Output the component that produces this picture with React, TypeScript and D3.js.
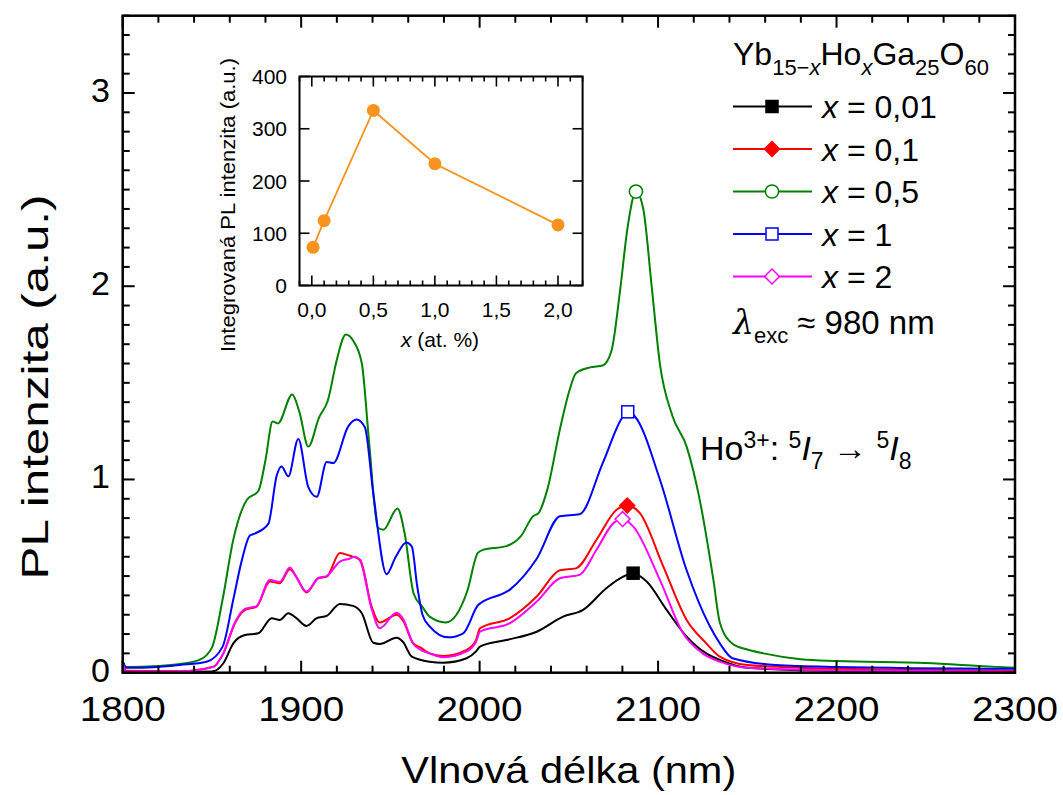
import React from "react";
import * as d3 from "d3";

// ---------- main chart data ----------
const xTickValues = [1800, 1900, 2000, 2100, 2200, 2300];
const yTickValues = [0, 1, 2, 3];

const seriesLabels = ["0,01", "0,1", "0,5", "1", "2"];
const seriesColors = ["#000000", "#ff0000", "#008000", "#0000ff", "#ff00ff"];
const markerShapes = ["square", "diamond", "circle", "square", "diamond"];
const markerFilled = [true, true, false, false, false];
const markerWavelengths = [2086, 2082.7, 2087.6, 2083, 2080.1];

const wlX001 = [1800, 1802, 1830, 1850, 1856.4, 1862, 1868.5, 1876, 1883.5, 1888, 1892.8, 1897, 1903, 1908.7, 1914.3, 1921.7, 1929, 1934, 1940.4, 1944, 1953.5, 1957, 1962, 1972, 1979.6, 1992.7, 1998, 2000.2, 2015, 2032, 2046.8, 2058, 2071, 2080.4, 2086, 2093.6, 2104.8, 2116, 2127, 2134.6, 2150, 2200, 2300];
const intX001 = [0.03, 0.005, 0.004, 0.006, 0.049, 0.152, 0.195, 0.204, 0.282, 0.273, 0.308, 0.285, 0.242, 0.282, 0.294, 0.356, 0.346, 0.308, 0.155, 0.149, 0.181, 0.16, 0.083, 0.057, 0.052, 0.075, 0.11, 0.135, 0.169, 0.212, 0.29, 0.325, 0.437, 0.497, 0.515, 0.472, 0.325, 0.187, 0.1, 0.066, 0.025, 0.01, 0.008];

const wlX01 = [1800, 1802, 1832, 1850.8, 1856.4, 1862.9, 1868.5, 1875, 1882.5, 1888, 1893.7, 1897, 1903, 1909.6, 1914.3, 1921.7, 1927.3, 1933, 1939.5, 1944, 1953.5, 1957, 1962.8, 1967, 1972, 1979.6, 1992.7, 1998, 2000.2, 2017, 2032, 2045, 2054, 2065.5, 2076.7, 2082.7, 2089.8, 2102.9, 2116, 2127, 2134.6, 2150, 2200, 2300];
const intX01 = [0.05, 0.01, 0.008, 0.031, 0.1, 0.256, 0.325, 0.342, 0.472, 0.463, 0.536, 0.5, 0.415, 0.489, 0.497, 0.62, 0.605, 0.584, 0.342, 0.26, 0.3, 0.27, 0.152, 0.13, 0.1, 0.087, 0.118, 0.17, 0.23, 0.282, 0.394, 0.53, 0.54, 0.688, 0.843, 0.865, 0.826, 0.55, 0.273, 0.152, 0.083, 0.04, 0.02, 0.01];

const wlX05 = [1800, 1802, 1820, 1832, 1843, 1850, 1856, 1862, 1869.6, 1876, 1880, 1884, 1887, 1895, 1899, 1904, 1910, 1915, 1920, 1925, 1929, 1934, 1938, 1943, 1946, 1954, 1958, 1963, 1968, 1972, 1981, 1987, 1993, 1999, 2002, 2015, 2023, 2030, 2033, 2038, 2045, 2050, 2054, 2062, 2069, 2074, 2078.6, 2083, 2087.6, 2091.7, 2096.4, 2101, 2108, 2116, 2123, 2131, 2134.6, 2141.7, 2150, 2159, 2180, 2200, 2250, 2280, 2300];
const intX05 = [0.06, 0.03, 0.035, 0.045, 0.066, 0.13, 0.38, 0.69, 0.895, 0.94, 1.1, 1.3, 1.29, 1.44, 1.35, 1.17, 1.32, 1.41, 1.62, 1.75, 1.72, 1.6, 1.2, 0.75, 0.74, 0.85, 0.72, 0.41, 0.34, 0.29, 0.26, 0.3, 0.42, 0.62, 0.636, 0.655, 0.705, 0.81, 0.826, 0.95, 1.26, 1.45, 1.55, 1.58, 1.59, 1.67, 1.97, 2.31, 2.49, 2.4, 2.0, 1.6, 1.33, 1.17, 0.91, 0.48, 0.26, 0.15, 0.12, 0.1, 0.07, 0.06, 0.05, 0.035, 0.025];

const wlX1 = [1800, 1802, 1820, 1832, 1847, 1856, 1862, 1866.7, 1871.3, 1874, 1881.6, 1886.3, 1889, 1892.8, 1898.4, 1904, 1908.7, 1914.3, 1918, 1926.4, 1931, 1935.7, 1940.4, 1947.9, 1953, 1959, 1962, 1965, 1968, 1972, 1982.4, 1990.8, 1999.2, 2001, 2017, 2032, 2045, 2056, 2069, 2080.4, 2083, 2087, 2101, 2116, 2129, 2134.6, 2141.7, 2166, 2200, 2300];
const intX1 = [0.06, 0.025, 0.03, 0.04, 0.057, 0.135, 0.38, 0.58, 0.71, 0.72, 0.77, 1.02, 1.067, 1.016, 1.21, 0.96, 0.91, 1.09, 1.085, 1.275, 1.31, 1.27, 0.93, 0.51, 0.6, 0.674, 0.653, 0.45, 0.3, 0.24, 0.183, 0.204, 0.35, 0.363, 0.43, 0.59, 0.81, 0.82, 1.085, 1.326, 1.35, 1.326, 1.0, 0.53, 0.24, 0.152, 0.075, 0.04, 0.03, 0.02];

const wlX2 = [1800, 1802, 1832, 1850.8, 1856.4, 1862.9, 1868.5, 1875, 1882.5, 1888, 1893.7, 1897, 1903, 1909.6, 1914.3, 1921.7, 1927, 1930, 1933, 1939.5, 1944, 1953.5, 1957, 1962.8, 1966.6, 1972, 1979.6, 1992.7, 1998, 2000.2, 2017, 2032, 2045, 2056, 2065.5, 2075, 2080.1, 2086, 2101, 2114, 2125, 2134.6, 2150, 2200, 2300];
const intX2 = [0.05, 0.005, 0.006, 0.03, 0.1, 0.26, 0.33, 0.345, 0.48, 0.47, 0.545, 0.5, 0.42, 0.49, 0.5, 0.575, 0.59, 0.6, 0.58, 0.33, 0.23, 0.31, 0.28, 0.15, 0.12, 0.1, 0.08, 0.11, 0.16, 0.212, 0.256, 0.368, 0.489, 0.506, 0.636, 0.774, 0.795, 0.757, 0.48, 0.204, 0.1, 0.057, 0.025, 0.012, 0.005];

const seriesWl = [wlX001, wlX01, wlX05, wlX1, wlX2];
const seriesInt = [intX001, intX01, intX05, intX1, intX2];

// ---------- inset data ----------
const insetX = [0.01, 0.1, 0.5, 1.0, 2.0];
const insetY = [73, 124, 335, 233, 116];
const insetXTicks = [0, 0.5, 1, 1.5, 2];
const insetXTickLabels = ["0,0", "0,5", "1,0", "1,5", "2,0"];
const insetYTicks = [0, 100, 200, 300, 400];

const FONT = "'Liberation Sans', Arial, sans-serif";

function Marker({ shape, cx, cy, color, filled, size }: any) {
  const fill = filled ? color : "#ffffff";
  if (shape === "square") {
    return <rect x={cx - size / 2} y={cy - size / 2} width={size} height={size} fill={fill} stroke={color} strokeWidth={1.5} />;
  }
  if (shape === "diamond") {
    const r = size * 0.62;
    return <path d={`M${cx},${cy - r}L${cx + r},${cy}L${cx},${cy + r}L${cx - r},${cy}Z`} fill={fill} stroke={color} strokeWidth={1.5} />;
  }
  return <circle cx={cx} cy={cy} r={size * 0.55} fill={fill} stroke={color} strokeWidth={1.5} />;
}

export default function App() {
  const W = 1063, H = 795;
  const L = 122.7, R = 1015, T = 15.7, B = 672.7;
  const x = d3.scaleLinear().domain([1800, 2300]).range([L, R]);
  const y = d3.scaleLinear().domain([0, 3.4]).range([B, T]);

  const line = d3
    .line<[number, number]>()
    .x((d) => x(d[0]))
    .y((d) => y(d[1]))
    .curve(d3.curveMonotoneX);

  const xMinor = d3.range(1800, 2300.1, 20);
  const yMinor = d3.range(0, 3.41, 0.1);

  // inset
  const iL = 299.5, iR = 582.6, iT = 76.5, iB = 285.5;
  const ix = d3.scaleLinear().domain([-0.1, 2.2]).range([iL, iR]);
  const iy = d3.scaleLinear().domain([0, 400]).range([iB, iT]);
  const ixMinor = d3.range(-0.1, 2.21, 0.1);
  const iyMinor = d3.range(0, 401, 50);
  const insetLine = d3
    .line<number>()
    .x((_, i) => ix(insetX[i]))
    .y((d) => iy(d));

  const drawOrder = [0, 1, 2, 3, 4];

  const legendTop = 106.5;
  const legendStep = 42.5;

  return (
    <svg width={W} height={H} style={{ position: "absolute", left: 0, top: 0, background: "#fff" }} fontFamily={FONT}>
      <rect x={0} y={0} width={W} height={H} fill="#fff" />
      {/* curves */}
      <g fill="none" strokeWidth={2} strokeLinejoin="round">
        {drawOrder.map((s) => (
          <path key={s} d={line(seriesWl[s].map((w, i) => [w, seriesInt[s][i]] as [number, number])) || ""} stroke={seriesColors[s]} />
        ))}
      </g>
      {/* peak markers */}
      {drawOrder.map((s) => {
        const idx = seriesWl[s].indexOf(markerWavelengths[s]);
        return (
          <Marker key={s} shape={markerShapes[s]} cx={x(seriesWl[s][idx])} cy={y(seriesInt[s][idx])} color={seriesColors[s]} filled={markerFilled[s]} size={12} />
        );
      })}

      {/* frame & ticks */}
      <g stroke="#000" strokeWidth={2}>
        {xMinor.map((v) => {
          const major = Math.abs(v % 100) < 1e-6;
          const len = major ? 12 : 7;
          return (
            <g key={"xt" + v}>
              <line x1={x(v)} x2={x(v)} y1={B} y2={B - len} />
              <line x1={x(v)} x2={x(v)} y1={T} y2={T + len} />
            </g>
          );
        })}
        {yMinor.map((v, i) => {
          const major = i % 10 === 0;
          const len = major ? 12 : 7;
          return (
            <g key={"yt" + i}>
              <line x1={L} x2={L + len} y1={y(v)} y2={y(v)} />
              <line x1={R} x2={R - len} y1={y(v)} y2={y(v)} />
            </g>
          );
        })}
      </g>
      <rect x={L} y={T} width={R - L} height={B - T} fill="none" stroke="#000" strokeWidth={2.5} />

      {/* tick labels */}
      <g fontSize={35} fill="#000">
        {xTickValues.map((v) => (
          <text key={v} x={x(v)} y={721} textAnchor="middle" textLength={86} lengthAdjust="spacingAndGlyphs">{v}</text>
        ))}
      </g>
      <g fontSize={34} fill="#000">
        {yTickValues.map((v) => (
          <text key={v} x={110} y={y(v) + 9} textAnchor="end">{v}</text>
        ))}
      </g>
      <text x={(L + R) / 2} y={783} textAnchor="middle" fontSize={37} textLength={335} lengthAdjust="spacingAndGlyphs">Vlnová délka (nm)</text>
      <text transform={`translate(48,387) rotate(-90)`} textAnchor="middle" fontSize={37} textLength={385} lengthAdjust="spacingAndGlyphs">PL intenzita (a.u.)</text>

      {/* legend */}
      <text x={733} y={65} fontSize={32}>
        Yb<tspan fontSize={22} dy={10}>15−<tspan fontStyle="italic">x</tspan></tspan>
        <tspan dy={-10}>Ho</tspan><tspan fontSize={22} dy={10} fontStyle="italic">x</tspan>
        <tspan dy={-10}>Ga</tspan><tspan fontSize={22} dy={10}>25</tspan>
        <tspan dy={-10}>O</tspan><tspan fontSize={22} dy={10}>60</tspan>
      </text>
      {seriesLabels.map((lab, i) => {
        const cy = legendTop + i * legendStep;
        return (
          <g key={lab}>
            <line x1={733} x2={812} y1={cy} y2={cy} stroke={seriesColors[i]} strokeWidth={2} />
            <Marker shape={markerShapes[i]} cx={772} cy={cy} color={seriesColors[i]} filled={markerFilled[i]} size={12} />
            <text x={822} y={cy + 11.5} fontSize={32}>
              <tspan fontStyle="italic">x</tspan> = {lab}
            </text>
          </g>
        );
      })}
      <text x={733} y={334} fontSize={33}>
        <tspan fontStyle="italic" fontFamily="'DejaVu Serif', serif">λ</tspan>
        <tspan fontSize={22} dy={9}>exc</tspan>
        <tspan dy={-9}> ≈ 980 nm</tspan>
      </text>
      <text x={700} y={460} fontSize={34}>
        Ho<tspan fontSize={23} dy={-12}>3+</tspan>
        <tspan dy={12}>: </tspan>
        <tspan fontSize={23} dy={-12}>5</tspan>
        <tspan dy={12} fontStyle="italic">I</tspan>
        <tspan fontSize={23} dy={9}>7</tspan>
        <tspan dy={-9}> → </tspan>
        <tspan fontSize={23} dy={-12}>5</tspan>
        <tspan dy={12} fontStyle="italic">I</tspan>
        <tspan fontSize={23} dy={9}>8</tspan>
      </text>

      {/* inset */}
      <g stroke="#000" strokeWidth={1.6}>
        {ixMinor.map((v, i) => {
          const major = (i - 1) % 5 === 0;
          const len = major ? 10 : 5;
          return (
            <g key={"ixt" + i}>
              <line x1={ix(v)} x2={ix(v)} y1={iB} y2={iB - len} />
              <line x1={ix(v)} x2={ix(v)} y1={iT} y2={iT + len} />
            </g>
          );
        })}
        {iyMinor.map((v, i) => {
          const major = i % 2 === 0;
          const len = major ? 10 : 0;
          return (
            <g key={"iyt" + i}>
              <line x1={iL} x2={iL + len} y1={iy(v)} y2={iy(v)} />
              <line x1={iR} x2={iR - len} y1={iy(v)} y2={iy(v)} />
            </g>
          );
        })}
      </g>
      <rect x={iL} y={iT} width={iR - iL} height={iB - iT} fill="none" stroke="#000" strokeWidth={2} />
      <path d={insetLine(insetY) || ""} fill="none" stroke="#f7931e" strokeWidth={1.8} />
      {insetY.map((v, i) => (
        <circle key={i} cx={ix(insetX[i])} cy={iy(v)} r={6.5} fill="#f7931e" />
      ))}
      <g fontSize={21} fill="#000">
        {insetXTicks.map((v, i) => (
          <text key={v} x={ix(v)} y={317} textAnchor="middle">{insetXTickLabels[i]}</text>
        ))}
        {insetYTicks.map((v) => (
          <text key={v} x={287} y={iy(v) + 7.5} textAnchor="end">{v}</text>
        ))}
      </g>
      <text x={440} y={347} textAnchor="middle" fontSize={21}>
        <tspan fontStyle="italic">x</tspan> (at. %)
      </text>
      <text transform={`translate(235,205) rotate(-90)`} textAnchor="middle" fontSize={20} textLength={294} lengthAdjust="spacingAndGlyphs">Integrovaná PL intenzita (a.u.)</text>
    </svg>
  );
}
